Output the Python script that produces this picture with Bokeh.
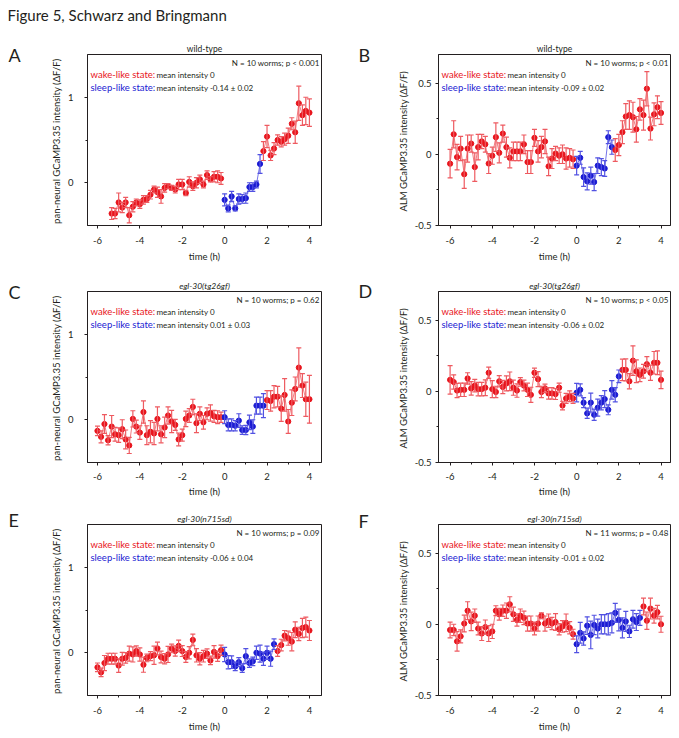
from bokeh.plotting import figure
from bokeh.layouts import column, row
from bokeh.models import (ColumnDataSource, Whisker, TeeHead, Label, FixedTicker,
                          Range1d, CustomJSTickFormatter, Title)
from bokeh.embed import file_html
from bokeh.resources import INLINE

# ---------------- data ----------------
TIME_H = [-6.0, -5.83, -5.67, -5.5, -5.33, -5.17, -5.0, -4.83, -4.67, -4.5,
          -4.33, -4.17, -4.0, -3.83, -3.67, -3.5, -3.33, -3.17, -3.0, -2.83,
          -2.67, -2.5, -2.33, -2.17, -2.0, -1.83, -1.67, -1.5, -1.33, -1.17,
          -1.0, -0.83, -0.67, -0.5, -0.33, -0.17, 0.0, 0.17, 0.33, 0.5,
          0.67, 0.83, 1.0, 1.17, 1.33, 1.5, 1.67, 1.83, 2.0, 2.17,
          2.33, 2.5, 2.67, 2.83, 3.0, 3.17, 3.33, 3.5, 3.67, 3.83, 4.0]
X_TICKS = [-6, -4, -2, 0, 2, 4]
X_MINOR = [-5, -3, -1, 1, 3]

A_MEAN = [None, None, None, None,
          -0.36, -0.36, -0.23, -0.29, -0.23, -0.38, -0.28, -0.23, -0.25, -0.20,
          -0.19, -0.14, -0.08, -0.11, -0.16, -0.06, -0.04, -0.06, -0.08, -0.02,
          -0.02, -0.12, 0.01, -0.04, 0.0, 0.04, -0.02, 0.09, 0.04, 0.07, 0.07, 0.05,
          -0.20, -0.30, -0.16, -0.30, -0.19, -0.19, -0.18, -0.05, -0.05, -0.02, 0.22,
          0.37, 0.54, 0.32, 0.40, 0.50, 0.48, 0.51, 0.55, 0.69, 0.59, 0.93, 0.79, 0.84, 0.82]
A_ERR = [None, None, None, None,
         0.07, 0.06, 0.11, 0.06, 0.06, 0.09, 0.06, 0.04, 0.05, 0.05,
         0.04, 0.05, 0.04, 0.06, 0.08, 0.05, 0.03, 0.03, 0.04, 0.06,
         0.06, 0.03, 0.06, 0.05, 0.06, 0.05, 0.04, 0.05, 0.03, 0.06, 0.07, 0.07,
         0.07, 0.04, 0.06, 0.03, 0.06, 0.05, 0.06, 0.05, 0.05, 0.04, 0.11,
         0.11, 0.13, 0.06, 0.07, 0.06, 0.06, 0.07, 0.09, 0.07, 0.13, 0.20, 0.12, 0.16, 0.16]

B_MEAN = [-0.066, 0.14, -0.02, 0.04, -0.14, 0.04, 0.075, -0.09, 0.05, 0.09,
          0.07, -0.065, -0.01, 0.12, 0.01, 0.145, 0.05, -0.025, 0.02, 0.02,
          0.02, 0.07, -0.055, -0.055, 0.115, 0.02, 0.05, 0.09, -0.085, -0.03,
          0.005, -0.01, 0.0, -0.03, -0.025, -0.035,
          -0.08, -0.025, -0.16, -0.19, -0.15, -0.195, -0.08, -0.09, -0.10, 0.12, 0.05,
          0.03, 0.065, 0.155, 0.265, 0.275, 0.26, 0.175, 0.315, 0.275, 0.46, 0.18, 0.28, 0.33, 0.29]
B_ERR = [0.10, 0.095, 0.09, 0.085, 0.10, 0.095, 0.06, 0.10, 0.09, 0.05,
         0.055, 0.07, 0.06, 0.10, 0.07, 0.06, 0.07, 0.07, 0.065, 0.065,
         0.065, 0.065, 0.08, 0.08, 0.06, 0.075, 0.075, 0.085, 0.065, 0.07,
         0.05, 0.055, 0.065, 0.075, 0.065, 0.065,
         0.065, 0.045, 0.065, 0.06, 0.06, 0.06, 0.055, 0.06, 0.055, 0.045, 0.05,
         0.08, 0.075, 0.08, 0.09, 0.10, 0.105, 0.09, 0.075, 0.105, 0.12, 0.08, 0.08, 0.08, 0.08]

C_MEAN = [-0.13, -0.20, -0.05, -0.24, -0.08, -0.17, -0.18, -0.11, -0.23, -0.30,
          0.01, -0.08, -0.15, 0.09, -0.18, -0.14, -0.16, 0.01, -0.17, -0.09,
          0.05, -0.02, -0.06, -0.23, -0.18, 0.01, 0.05, 0.15, -0.04, 0.07,
          -0.03, 0.07, 0.08, 0.04, 0.03, 0.03,
          0.03, -0.06, -0.06, -0.07, -0.01, -0.12, -0.12, -0.03, -0.08, 0.165, 0.165, 0.165,
          0.23, 0.22, 0.27, 0.27, 0.13, 0.29, -0.02, 0.20, 0.36, 0.61, 0.40, 0.24, 0.24]
C_ERR = [0.055, 0.07, 0.11, 0.055, 0.13, 0.08, 0.085, 0.11, 0.11, 0.095,
         0.095, 0.075, 0.08, 0.13, 0.11, 0.13, 0.13, 0.14, 0.10, 0.12,
         0.10, 0.13, 0.065, 0.075, 0.07, 0.09, 0.08, 0.09, 0.11, 0.08,
         0.08, 0.07, 0.095, 0.07, 0.075, 0.06,
         0.075, 0.07, 0.07, 0.06, 0.08, 0.05, 0.055, 0.085, 0.08, 0.10, 0.10, 0.14,
         0.11, 0.12, 0.13, 0.12, 0.15, 0.19, 0.14, 0.15, 0.14, 0.23, 0.14, 0.20, 0.28]

D_MEAN = [0.08, 0.065, 0.005, 0.01, 0.01, 0.09, 0.02, 0.04, 0.015, 0.015,
          0.025, 0.13, 0.015, -0.005, 0.07, 0.03, 0.055, 0.07, 0.025, 0.005,
          0.065, 0.04, 0.01, -0.025, 0.13, 0.085, -0.005, 0.02, -0.015, -0.015,
          -0.02, 0.025, -0.10, -0.05, -0.035, -0.05,
          -0.01, 0.01, -0.08, -0.155, -0.08, -0.165, -0.115, -0.08, -0.055, -0.13, 0.01, -0.025, 0.105,
          0.15, 0.15, 0.07, 0.215, 0.14, 0.115, 0.14, 0.19, 0.13, 0.20, 0.20, 0.08]
D_ERR = [0.10, 0.05, 0.05, 0.047, 0.047, 0.04, 0.047, 0.044, 0.047, 0.047,
         0.055, 0.04, 0.06, 0.04, 0.04, 0.047, 0.053, 0.065, 0.053, 0.047,
         0.03, 0.038, 0.047, 0.053, 0.032, 0.053, 0.04, 0.03, 0.04, 0.04,
         0.038, 0.032, 0.03, 0.035, 0.038, 0.035,
         0.065, 0.042, 0.035, 0.036, 0.067, 0.04, 0.06, 0.05, 0.06, 0.035, 0.065, 0.05, 0.044,
         0.075, 0.077, 0.053, 0.104, 0.08, 0.048, 0.048, 0.053, 0.053, 0.079, 0.083, 0.061]

E_MEAN = [-0.17, -0.23, -0.12, -0.07, -0.07, -0.07, -0.15, -0.07, -0.06, -0.01,
          -0.02, 0.02, -0.02, -0.14, -0.06, -0.04, -0.03, 0.05, -0.05, -0.07,
          -0.02, 0.05, 0.02, 0.08, 0.02, -0.05, 0.0, 0.15, -0.03, -0.07,
          -0.04, -0.01, -0.09, 0.01, -0.04, 0.03,
          -0.02, -0.11, -0.11, -0.16, -0.11, -0.18, -0.04, -0.12, -0.10, 0.0, -0.01, -0.07, 0.0, -0.07, 0.10,
          0.02, 0.09, 0.20, 0.17, 0.13, 0.27, 0.22, 0.29, 0.30, 0.26]
E_ERR = [0.05, 0.05, 0.088, 0.064, 0.064, 0.064, 0.08, 0.074, 0.062, 0.088,
         0.088, 0.06, 0.078, 0.088, 0.045, 0.053, 0.107, 0.074, 0.068, 0.06,
         0.094, 0.05, 0.06, 0.068, 0.064, 0.063, 0.072, 0.068, 0.078, 0.072,
         0.068, 0.055, 0.05, 0.074, 0.06, 0.06,
         0.084, 0.078, 0.074, 0.05, 0.053, 0.05, 0.088, 0.05, 0.05, 0.078, 0.10, 0.078, 0.078, 0.088, 0.062,
         0.063, 0.068, 0.06, 0.082, 0.107, 0.092, 0.078, 0.113, 0.117, 0.117]

F_MEAN = [-0.04, -0.04, -0.12, -0.085, 0.005, 0.095, 0.02, 0.06, -0.03, -0.065,
          -0.02, -0.065, -0.05, 0.095, 0.07, 0.095, 0.095, 0.14, 0.07, 0.03,
          0.06, 0.045, 0.005, 0.005, -0.03, 0.005, 0.06, 0.005, 0.025, 0.005,
          0.015, -0.035, -0.015, 0.01, -0.025, -0.07,
          -0.14, -0.06, -0.10, -0.01, -0.075, -0.005, -0.03, 0.0, 0.0, 0.0, 0.01, 0.08, 0.03,
          -0.025, 0.02, -0.05, 0.035, 0.015, 0.045,
          0.125, 0.025, 0.11, 0.06, 0.085, 0.0]
F_ERR = [0.055, 0.04, 0.068, 0.046, 0.059, 0.063, 0.065, 0.047, 0.045, 0.049,
         0.05, 0.056, 0.05, 0.035, 0.041, 0.04, 0.054, 0.053, 0.05, 0.043,
         0.047, 0.047, 0.053, 0.053, 0.045, 0.053, 0.02, 0.053, 0.047, 0.043,
         0.059, 0.039, 0.041, 0.062, 0.043, 0.035,
         0.059, 0.073, 0.047, 0.062, 0.097, 0.068, 0.066, 0.067, 0.067, 0.074, 0.07, 0.067, 0.076,
         0.07, 0.07, 0.043, 0.062, 0.059, 0.053,
         0.059, 0.061, 0.073, 0.052, 0.047, 0.056]

SLEEP_START = 0.0
SLEEP_END = {"A": 1.67, "B": 1.67, "C": 1.83, "D": 2.0, "E": 2.33, "F": 3.0}

FIG_TITLE = "Figure 5, Schwarz and Bringmann"
SUBTITLES = {"A": "wild-type", "B": "wild-type", "C": "egl-30(tg26gf)",
             "D": "egl-30(tg26gf)", "E": "egl-30(n715sd)", "F": "egl-30(n715sd)"}
N_TEXT = {"A": "N = 10 worms; p < 0.001", "B": "N = 10 worms; p < 0.01",
          "C": "N = 10 worms; p = 0.62", "D": "N = 10 worms; p < 0.05",
          "E": "N = 10 worms; p = 0.09", "F": "N = 11 worms; p = 0.48"}
WAKE_TEXT = {"A": "mean intensity 0", "B": "mean intensity  0", "C": "mean intensity 0",
             "D": "mean intensity 0", "E": "mean intensity 0", "F": "mean intensity 0"}
SLEEP_TEXT = {"A": "mean intensity -0.14 \u00b1 0.02", "B": "mean intensity -0.09 \u00b1 0.02",
              "C": "mean intensity 0.01 \u00b1 0.03", "D": "mean intensity -0.06 \u00b1 0.02",
              "E": "mean intensity -0.06 \u00b1 0.04", "F": "mean intensity -0.01 \u00b1 0.02"}
YLABEL_PAN = "pan-neural GCaMP3.35 intensity  (\u0394F/F)"
YLABEL_ALM = "ALM GCaMP3.35 intensity  (\u0394F/F)"

# ---------------- style / geometry ----------------
FONT = "Lato"
INK = "#231f20"
RED, RED_L = "#e8141c", "#ee5a60"
BLUE, BLUE_L = "#1a1ad2", "#5252e2"

HEADER_H = 40
FRAME_H = 171
ROWS = [  # figure height, top border, x-axis standoffs
    dict(h=232, top=14, std=8, astd=4),
    dict(h=228, top=19, std=7, astd=3),
    dict(h=237, top=24, std=8, astd=4),
]
GUTTER_W = [38, 30]
COLS = [
    dict(w=307, left=49, right=24, xr=(-6.47, 4.57), yr=(-0.5, 1.5),
         yticks=[0, 1], yminor=[0.5], ystd=11, ylabel=YLABEL_PAN),
    dict(w=304, left=63, right=9, xr=(-6.55, 4.45), yr=(-0.5, 0.7),
         yticks=[-0.5, 0, 0.5], yminor=[-0.25, 0.25], ystd=4, ylabel=YLABEL_ALM),
]
LAYOUT = {"A": (0, 0), "B": (0, 1), "C": (1, 0), "D": (1, 1), "E": (2, 0), "F": (2, 1)}
DATA = {"A": (A_MEAN, A_ERR), "B": (B_MEAN, B_ERR), "C": (C_MEAN, C_ERR),
        "D": (D_MEAN, D_ERR), "E": (E_MEAN, E_ERR), "F": (F_MEAN, F_ERR)}
SUB_OFFSET = {"A": 0, "B": 2, "C": 12, "D": 9, "E": 9, "F": 8}
# panel-letter positions inside the gutters (x from gutter left, y from gutter top)
LETTER_POS = {"A": (8, 14), "C": (8, 251), "E": (8, 479),
              "B": (13, 14), "D": (13, 250.5), "F": (13, 480.5)}

fmt = CustomJSTickFormatter(code="return tick.toString();")


def blank(width, height):
    g = figure(width=width, height=height, x_range=Range1d(0, width), y_range=Range1d(height, 0),
               output_backend="svg", toolbar_location=None, min_border=0,
               x_axis_location=None, y_axis_location=None, title=None)
    g.outline_line_color = None
    g.grid.visible = False
    g.background_fill_color = "white"
    g.border_fill_color = "white"
    return g


def panel(key):
    r, c = LAYOUT[key]
    R, C = ROWS[r], COLS[c]
    fw = C["w"] - C["left"] - C["right"]
    x0, x1 = C["xr"]
    y0, y1 = C["yr"]
    ttl = Title(text=SUBTITLES[key], align="center", offset=SUB_OFFSET[key], standoff=1,
                text_font=FONT, text_font_size="8.5px", text_color=INK,
                text_font_style="normal" if key in ("A", "B") else "italic")
    p = figure(width=C["w"], height=R["h"], x_range=Range1d(x0, x1), y_range=Range1d(y0, y1),
               output_backend="svg", toolbar_location=None, title=ttl,
               min_border_left=C["left"], min_border_right=C["right"],
               min_border_top=R["top"], min_border_bottom=R["h"] - R["top"] - FRAME_H)
    p.grid.visible = False
    p.outline_line_color = INK
    p.outline_line_alpha = 1
    p.outline_line_width = 1
    p.background_fill_color = "white"
    p.border_fill_color = "white"

    for ax in (p.xaxis[0], p.yaxis[0]):
        ax.axis_line_color = INK
        ax.major_tick_line_color = INK
        ax.minor_tick_line_color = INK
        ax.major_tick_in = 0
        ax.major_tick_out = 3
        ax.minor_tick_in = 0
        ax.minor_tick_out = 2
        ax.major_label_text_font = FONT
        ax.major_label_text_font_size = "9.5px"
        ax.major_label_text_color = INK
        ax.axis_label_text_font = FONT
        ax.axis_label_text_font_size = "9.5px"
        ax.axis_label_text_font_style = "normal"
        ax.axis_label_text_color = INK
        ax.formatter = fmt
    p.xaxis.ticker = FixedTicker(ticks=X_TICKS, minor_ticks=X_MINOR)
    p.xaxis.axis_label = "time (h)"
    p.xaxis.major_label_standoff = R["std"]
    p.xaxis.axis_label_standoff = R["astd"]
    p.yaxis.ticker = FixedTicker(ticks=C["yticks"], minor_ticks=C["yminor"])
    p.yaxis.axis_label = C["ylabel"]
    p.yaxis.major_label_standoff = C["ystd"]
    p.yaxis.axis_label_standoff = 3

    mean, err = DATA[key]
    s_end = SLEEP_END[key]
    segs = {"pre": [], "sleep": [], "post": []}
    for t, m, e in zip(TIME_H, mean, err):
        if m is None:
            continue
        if t < SLEEP_START:
            segs["pre"].append((t, m, e))
        elif t <= s_end + 1e-6:
            segs["sleep"].append((t, m, e))
        else:
            segs["post"].append((t, m, e))
    for name, pts in segs.items():
        if not pts:
            continue
        dark, light = (BLUE, BLUE_L) if name == "sleep" else (RED, RED_L)
        src = ColumnDataSource(dict(
            x=[q[0] for q in pts], y=[q[1] for q in pts],
            lo=[q[1] - q[2] for q in pts], hi=[q[1] + q[2] for q in pts]))
        p.line("x", "y", source=src, line_color=light, line_width=1, line_alpha=0.8)
        w = Whisker(source=src, base="x", lower="lo", upper="hi", dimension="height",
                    line_color=light, line_width=1.2, level="glyph",
                    lower_head=TeeHead(size=5, line_color=light, line_width=1.2),
                    upper_head=TeeHead(size=5, line_color=light, line_width=1.2))
        p.add_layout(w)
        p.scatter("x", "y", source=src, size=5.2, marker="circle",
                  fill_color=dark, line_color=dark)

    def dx(px):
        return x0 + px * (x1 - x0) / fw

    def dy(py):
        return y1 - py * (y1 - y0) / FRAME_H

    def lab(px, py, text, size, color=INK, align="left"):
        p.add_layout(Label(x=dx(px), y=dy(py), text=text, text_font=FONT,
                           text_font_size=size, text_color=color, text_align=align,
                           text_baseline="middle"))

    lab(fw - 2, 8.5, N_TEXT[key], "8px", align="right")
    lab(3, 20, "wake-like state:", "9.5px", color=RED)
    lab(69, 20, WAKE_TEXT[key], "8px")
    lab(3, 33, "sleep-like state:", "9.5px", color=BLUE)
    lab(69, 33, SLEEP_TEXT[key], "8px")
    return p


figs = {k: panel(k) for k in "ABCDEF"}
body_h = sum(R["h"] for R in ROWS)
total_w = GUTTER_W[0] + COLS[0]["w"] + GUTTER_W[1] + COLS[1]["w"]

header = blank(total_w, HEADER_H)
header.add_layout(Label(x=7, y=14, text=FIG_TITLE, text_font=FONT, text_font_size="15px",
                        text_color=INK, text_align="left", text_baseline="middle"))

gutters = [blank(GUTTER_W[0], body_h), blank(GUTTER_W[1], body_h)]
for k, (gx, gy) in LETTER_POS.items():
    g = gutters[LAYOUT[k][1]]
    g.add_layout(Label(x=gx, y=gy, text=k, text_font=FONT, text_font_size="18px",
                       text_color=INK, text_align="left", text_baseline="middle"))

layout = column(header,
                row(gutters[0], column(figs["A"], figs["C"], figs["E"]),
                    gutters[1], column(figs["B"], figs["D"], figs["F"])))

open("out.html", "w").write(file_html(layout, INLINE))
